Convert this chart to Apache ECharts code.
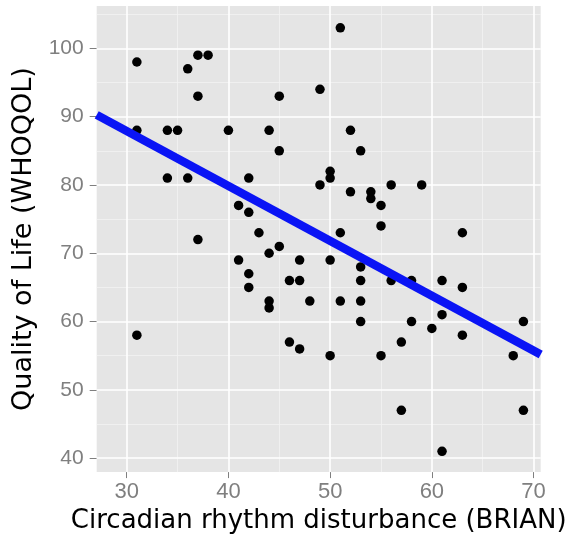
<!DOCTYPE html>
<html><head><meta charset="utf-8">
<script src="https://cdn.jsdelivr.net/npm/echarts@6/dist/echarts.min.js"></script>
<style>html,body{margin:0;padding:0;background:#fff}#c{width:583px;height:539px}</style>
</head><body><div id="c"></div>
<script>
const brian = [31,37,38,36,37,45,49,31,34,35,40,44,45,34,36,42,49,41,42,43,37,45,51,52,53,50,50,52,54,54,56,59,55,55,51,63,44,41,47,42,46,47,42,44,44,48,31,46,47,50,53,53,56,58,61,63,51,53,61,53,58,69,60,63,57,50,55,68,57,69,61];
const whoqol = [98,99,99,97,93,93,94,88,88,88,88,88,85,81,81,81,80,77,76,73,72,71,103,88,85,82,81,79,79,78,80,80,77,74,73,73,70,69,69,67,66,66,65,63,62,63,58,57,56,69,68,66,66,66,66,65,63,63,61,60,60,60,59,58,57,55,55,55,47,47,41];
const xTicks = [30,40,50,60,70];
const xMinor = [35,45,55,65];
const yTicks = [40,50,60,70,80,90,100];
const yMinor = [45,55,65,75,85,95,105];
const xRange = [27.05, 70.7];
const yRange = [37.96, 106.2];

// least-squares fit of the data
const n = brian.length;
let mx = 0, my = 0;
for (let i = 0; i < n; i++) { mx += brian[i]; my += whoqol[i]; }
mx /= n; my /= n;
let sxy = 0, sxx = 0;
for (let i = 0; i < n; i++) { sxy += (brian[i]-mx)*(whoqol[i]-my); sxx += (brian[i]-mx)*(brian[i]-mx); }
const slope = sxy / sxx, icpt = my - slope*mx;
const fitLine = xRange.map(x => [x, icpt + slope*x]);

const pts = brian.map((x,i) => [x, whoqol[i]]);
const font = 'Liberation Sans, Arial, Helvetica, sans-serif';
const titleFont = 'DejaVu Sans, sans-serif';
const gridLines = [];
xMinor.forEach(v => gridLines.push({xAxis: v, lineStyle: {color: '#F2F2F2', width: 0.8, type: 'solid'}}));
yMinor.forEach(v => gridLines.push({yAxis: v, lineStyle: {color: '#F2F2F2', width: 0.8, type: 'solid'}}));
xTicks.forEach(v => gridLines.push({xAxis: v, lineStyle: {color: '#FFFFFF', width: 1.6, type: 'solid'}}));
yTicks.forEach(v => gridLines.push({yAxis: v, lineStyle: {color: '#FFFFFF', width: 1.6, type: 'solid'}}));

const chart = echarts.init(document.getElementById('c'), null, {renderer: 'canvas'});
chart.setOption({
  animation: false,
  backgroundColor: '#fff',
  grid: {left: 96.7, top: 6, right: 42.3, bottom: 66, show: true, backgroundColor: '#E5E5E5', borderWidth: 0},
  xAxis: {
    type: 'value', min: xRange[0], max: xRange[1],
    name: 'Circadian rhythm disturbance (BRIAN)', nameLocation: 'middle', nameGap: 33,
    nameTextStyle: {fontFamily: titleFont, fontSize: 26, color: '#000'},
    axisLine: {show: false},
    axisTick: {show: true, length: 6, customValues: xTicks, lineStyle: {color: '#7F7F7F', width: 1}},
    axisLabel: {customValues: xTicks, fontFamily: font, fontSize: 22, color: '#7F7F7F', margin: 9},
    splitLine: {show: false}
  },
  yAxis: {
    type: 'value', min: yRange[0], max: yRange[1],
    name: 'Quality of Life (WHOQOL)', nameLocation: 'middle', nameGap: 56,
    nameTextStyle: {fontFamily: titleFont, fontSize: 27, color: '#000'},
    axisLine: {show: false},
    axisTick: {show: true, length: 7, customValues: yTicks, lineStyle: {color: '#7F7F7F', width: 1}},
    axisLabel: {customValues: yTicks, fontFamily: font, fontSize: 21, color: '#7F7F7F', margin: 13},
    splitLine: {show: false}
  },
  series: [
    {type: 'line', data: [], silent: true, z: 1,
     markLine: {silent: true, z: 1, symbol: 'none', label: {show: false}, animation: false, data: gridLines}},
    {type: 'scatter', data: pts, symbolSize: 9.5, itemStyle: {color: '#000', opacity: 1}, z: 3},
    {type: 'line', data: fitLine, showSymbol: false, symbol: 'none', lineStyle: {color: '#0A14F5', width: 8.5}, z: 4}
  ]
});
</script></body></html>
